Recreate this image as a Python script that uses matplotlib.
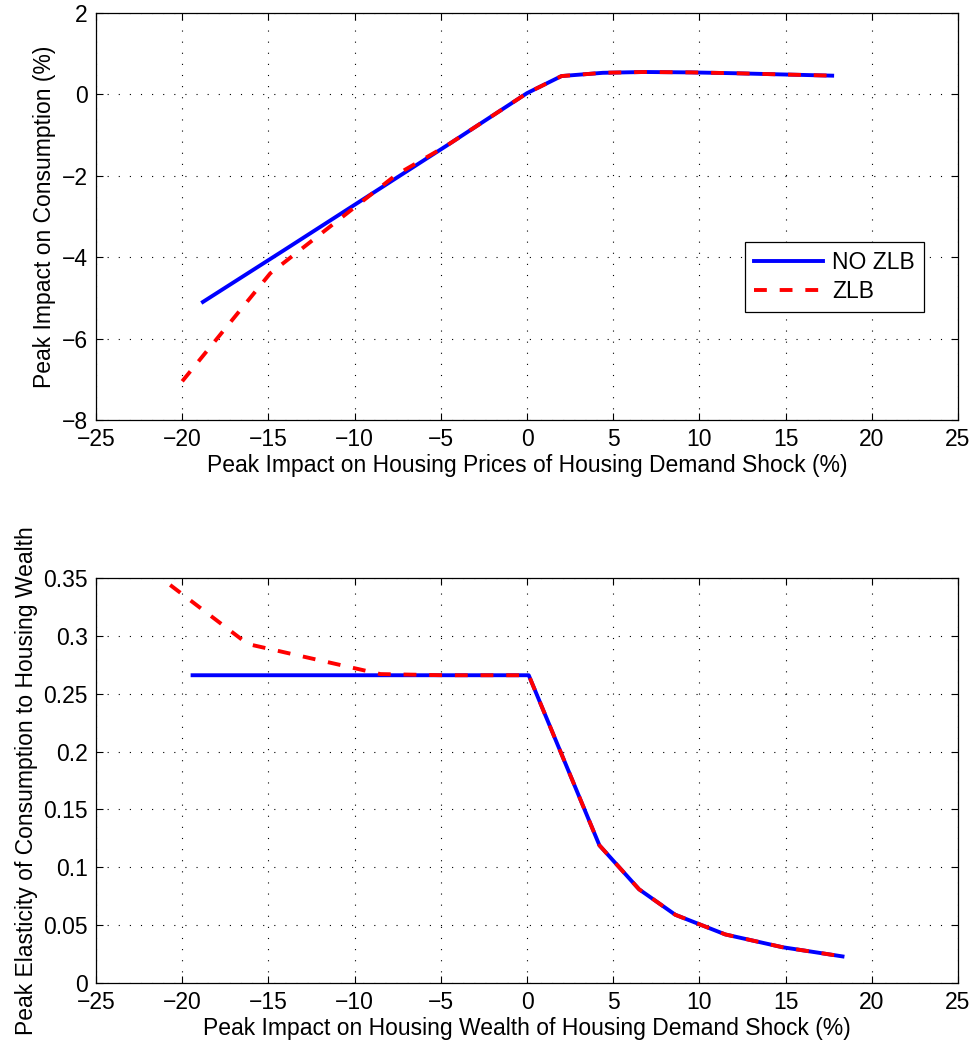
import numpy as np
import matplotlib
matplotlib.use('Agg')
import matplotlib.pyplot as plt

plt.rcParams['font.family'] = ['Liberation Sans', 'DejaVu Sans']

# top panel: peak impact on consumption vs house prices
price_nozlb = [-18.8, -14.1, -9.4, -4.7, 0.0, 2.0, 4.4, 6.8, 9.5, 12.0, 14.8, 17.7]
cons_nozlb = [-5.10, -3.83, -2.55, -1.27, 0.03, 0.45, 0.53, 0.55, 0.54, 0.52, 0.49, 0.46]
price_zlb = [-20.0, -14.9, -7.6, -4.7, 0.0, 2.0, 4.4, 6.8, 9.5, 12.0, 14.8, 17.7]
cons_zlb = [-7.05, -4.40, -1.98, -1.27, 0.03, 0.45, 0.53, 0.55, 0.54, 0.52, 0.49, 0.46]

# bottom panel: peak elasticity vs housing wealth
wealth_nozlb = [-19.4, -14.5, -9.7, -4.8, 0.1, 4.2, 6.5, 8.6, 11.5, 14.8, 18.3]
elas_nozlb = [0.266, 0.266, 0.266, 0.266, 0.266, 0.119, 0.081, 0.059, 0.042, 0.031, 0.023]
wealth_zlb = [-20.7, -16.2, -8.5, -4.8, 0.1, 4.2, 6.5, 8.6, 11.5, 14.8, 18.3]
elas_zlb = [0.344, 0.293, 0.267, 0.266, 0.266, 0.119, 0.081, 0.059, 0.042, 0.031, 0.023]

xticks = np.arange(-25, 26, 5)
fs = 16.5

fig = plt.figure(figsize=(9.72, 10.47), dpi=100)
ax1 = fig.add_axes([0.0988, 0.5989, 0.8868, 0.3887])
ax2 = fig.add_axes([0.0988, 0.0611, 0.8868, 0.3868])

lw = 2.8
dash = (0, (3.3, 3.3))
for ax in (ax1, ax2):
    ax.set_xlim(-25, 25)
    ax.set_xticks(xticks)
    ax.grid(True, linestyle=(0, (1, 9)), color='black', linewidth=0.8)
    ax.tick_params(direction='in', top=True, right=True, labelsize=fs, length=5, pad=6)
    for s in ax.spines.values():
        s.set_linewidth(0.9)

ax1.plot(price_nozlb, cons_nozlb, color='blue', lw=lw, label='NO ZLB')
ax1.plot(price_zlb, cons_zlb, color='red', lw=lw, linestyle=dash,
         dash_capstyle='butt', label='ZLB')
ax1.set_ylim(-8, 2)
ax1.set_yticks(np.arange(-8, 3, 2))
ax1.set_yticklabels(['\u22128', '\u22126', '\u22124', '\u22122', '0', '2'])
ax1.set_xticklabels([str(int(v)).replace('-', '\u2212') for v in xticks])
ax1.set_xlabel('Peak Impact on Housing Prices of Housing Demand Shock (%)', fontsize=fs, labelpad=2)
ax1.set_ylabel('Peak Impact on Consumption (%)', fontsize=fs, labelpad=4)
leg = ax1.legend(loc='center', bbox_to_anchor=(0.857, 0.352), fontsize=fs,
                 fancybox=False, framealpha=1, edgecolor='black', handlelength=3.0,
                 borderpad=0.4, labelspacing=0.25, handletextpad=0.4)
leg.get_frame().set_linewidth(0.9)

ax2.plot(wealth_nozlb, elas_nozlb, color='blue', lw=lw)
ax2.plot(wealth_zlb, elas_zlb, color='red', lw=lw, linestyle=dash, dash_capstyle='butt')
ax2.set_ylim(0, 0.35)
ax2.set_yticks(np.arange(0, 0.36, 0.05))
ax2.set_yticklabels(['0', '0.05', '0.1', '0.15', '0.2', '0.25', '0.3', '0.35'])
ax2.set_xticklabels([str(int(v)).replace('-', '\u2212') for v in xticks])
ax2.set_xlabel('Peak Impact on Housing Wealth of Housing Demand Shock (%)', fontsize=fs, labelpad=2)
ax2.set_ylabel('Peak Elasticity of Consumption to Housing Wealth', fontsize=fs, labelpad=4)

fig.savefig('out.png', dpi=100)
